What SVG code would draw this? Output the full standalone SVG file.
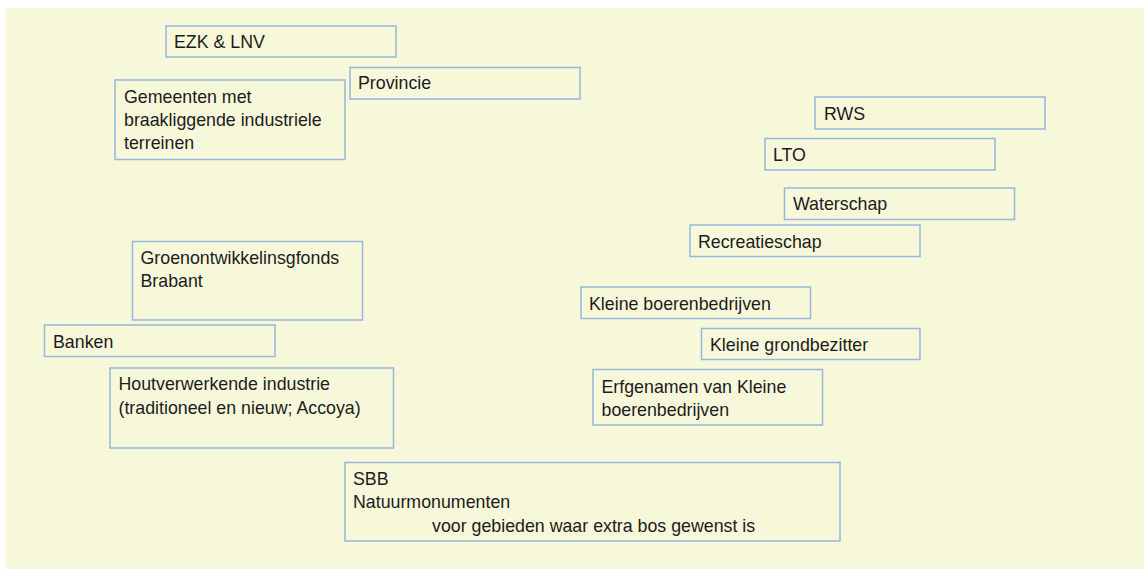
<svg xmlns="http://www.w3.org/2000/svg" width="1144" height="569" viewBox="0 0 1144 569">
<style>
.bg{fill:#F7F7DA}
.box{fill:none;stroke:#95B8DC;stroke-width:1.5}
.t{font-family:"Liberation Sans",Arial,sans-serif;font-size:17.8px;fill:#1C1C1C}
</style>
<rect class="bg" x="6" y="8" width="1138" height="561"/>
<g id="ezk"><rect class="box" x="166" y="26" width="230" height="31"/><text class="t" x="174" y="48">EZK &amp; LNV</text></g>
<g id="provincie"><rect class="box" x="350" y="67.5" width="230" height="31.5"/><text class="t" x="358" y="89">Provincie</text></g>
<g id="gemeenten"><rect class="box" x="115" y="80" width="230" height="79.5"/><text class="t" x="124" y="102.5">Gemeenten met</text><text class="t" x="124" y="126">braakliggende industriele</text><text class="t" x="124" y="149">terreinen</text></g>
<g id="rws"><rect class="box" x="815" y="97" width="230" height="32"/><text class="t" x="824" y="119.5">RWS</text></g>
<g id="lto"><rect class="box" x="765" y="138.5" width="230" height="31.5"/><text class="t" x="773" y="161">LTO</text></g>
<g id="waterschap"><rect class="box" x="784.5" y="188" width="230" height="31.5"/><text class="t" x="793" y="210">Waterschap</text></g>
<g id="recreatieschap"><rect class="box" x="690" y="225" width="230" height="31.5"/><text class="t" x="698" y="247.5">Recreatieschap</text></g>
<g id="groen"><rect class="box" x="132.5" y="241.5" width="230" height="78.5"/><text class="t" x="140.5" y="263.5">Groenontwikkelinsgfonds</text><text class="t" x="140.5" y="287">Brabant</text></g>
<g id="kleine-boeren"><rect class="box" x="581" y="287" width="229.5" height="31.5"/><text class="t" x="589" y="309.5">Kleine boerenbedrijven</text></g>
<g id="banken"><rect class="box" x="44.5" y="325" width="230.5" height="31.5"/><text class="t" x="53" y="347.5">Banken</text></g>
<g id="kleine-grond"><rect class="box" x="701.5" y="328.5" width="218.5" height="31"/><text class="t" x="710" y="351">Kleine grondbezitter</text></g>
<g id="hout"><rect class="box" x="110" y="368" width="283.5" height="80"/><text class="t" x="118.5" y="389.5">Houtverwerkende industrie</text><text class="t" x="118.5" y="413.5">(traditioneel en nieuw; Accoya)</text></g>
<g id="erfgenamen"><rect class="box" x="593" y="369.5" width="229.5" height="55.5"/><text class="t" x="601.5" y="393">Erfgenamen van Kleine</text><text class="t" x="601.5" y="415.5">boerenbedrijven</text></g>
<g id="sbb"><rect class="box" x="345" y="462.5" width="495" height="78.5"/><text class="t" x="353" y="484.5">SBB</text><text class="t" x="353" y="507.5">Natuurmonumenten</text><text class="t" x="432" y="532">voor gebieden waar extra bos gewenst is</text></g>
<g id="connectors"/>
</svg>
